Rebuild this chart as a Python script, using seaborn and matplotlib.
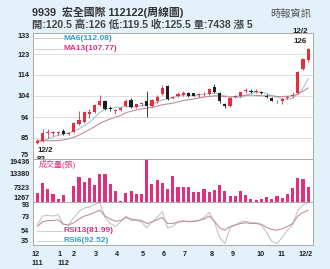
import numpy as np
import pandas as pd
import matplotlib
matplotlib.use("Agg")
import matplotlib.pyplot as plt
import seaborn as sns

# ---------------- data ----------------
opens = [82.5, 83.5, 86.8, 87.0, 87.0, 88.0, 86.5, 87.5, 91.0, 92.0,
         95.5, 96.5, 100.0, 101.5, 98.5, 97.0, 97.5, 99.5, 102.0, 99.0,
         100.3, 101.5, 99.5, 101.5, 105.0, 108.5, 103.0, 104.0, 104.5, 105.5,
         105.2, 104.5, 104.8, 105.0, 108.3, 105.5, 100.5, 99.5, 103.5, 104.0,
         106.5, 106.5, 106.0, 106.0, 104.2, 103.2, 101.5, 101.8, 103.0, 104.0,
         105.5, 116.5, 120.5]
highs = [84.0, 89.0, 89.0, 88.0, 88.0, 89.0, 87.5, 92.0, 97.0, 97.0,
         98.0, 100.5, 104.5, 102.0, 99.5, 98.0, 99.0, 102.5, 103.0, 100.5,
         101.0, 106.5, 102.5, 104.5, 109.0, 109.0, 104.0, 106.0, 106.5, 106.0,
         105.5, 105.5, 106.0, 107.5, 109.5, 106.0, 101.0, 103.5, 104.5, 106.0,
         107.5, 107.0, 107.0, 106.5, 104.8, 103.5, 102.0, 103.0, 104.0, 106.0,
         115.5, 121.5, 126.0]
lows = [82.0, 83.0, 84.5, 85.5, 86.0, 86.0, 86.0, 87.0, 90.5, 91.5,
        94.0, 96.0, 99.5, 97.5, 97.0, 95.5, 97.0, 99.0, 98.5, 98.5,
        99.5, 94.5, 99.0, 101.0, 104.5, 102.0, 102.5, 103.5, 104.0, 103.5,
        104.0, 103.5, 104.2, 104.5, 105.5, 101.0, 98.5, 99.0, 103.0, 103.5,
        105.5, 105.5, 105.5, 105.0, 103.0, 101.5, 101.0, 100.5, 102.5, 103.5,
        105.0, 116.0, 119.5]
closes = [83.5, 87.0, 87.2, 87.3, 87.5, 86.5, 87.0, 91.5, 93.0, 96.5,
          96.5, 100.0, 101.5, 98.0, 98.0, 97.5, 98.5, 101.5, 99.0, 100.3,
          100.5, 99.5, 102.0, 103.5, 107.5, 102.5, 103.5, 105.0, 105.5, 104.0,
          104.2, 104.8, 105.0, 107.0, 106.0, 101.5, 99.5, 103.0, 104.0, 105.7,
          106.5, 106.0, 106.0, 105.3, 103.4, 101.8, 101.8, 102.6, 103.7, 104.3,
          115.0, 121.0, 125.5]
ma6 = [82.5, 83.3, 84.2, 85.2, 85.9, 86.5, 87.1, 87.8, 88.8, 90.3,
       91.8, 94.1, 96.5, 97.9, 98.4, 98.6, 98.9, 99.2, 98.8, 99.1,
       99.6, 100.0, 100.4, 101.1, 102.2, 102.6, 103.1, 104.0, 104.6, 104.6,
       104.1, 104.5, 104.8, 105.1, 105.3, 104.8, 104.0, 103.7, 103.5, 103.3,
       104.2, 105.2, 105.9, 105.6, 105.1, 104.2, 103.4, 102.8, 102.4, 102.9,
       104.9, 107.5, 112.08]
ma13 = [83.5, 83.4, 83.4, 83.4, 83.5, 83.8, 84.3, 85.0, 86.0, 87.3,
        88.5, 89.9, 91.4, 92.5, 93.4, 94.3, 95.1, 96.3, 97.0, 97.6,
        98.1, 98.4, 98.8, 99.3, 100.0, 100.3, 100.7, 101.3, 101.9, 102.3,
        102.6, 103.1, 103.5, 103.8, 104.1, 104.0, 103.7, 103.6, 103.8, 104.0,
        104.3, 104.4, 104.3, 104.1, 104.1, 104.0, 103.8, 103.7, 103.9, 104.1,
        104.9, 106.2, 107.77]
volume = [5210, 9150, 6620, 4500, 2530, 4220, 1267, 8170, 11970, 9575,
          11260, 8450, 12950, 12950, 8870, 5910, 1830, 5210, 5910, 4650,
          4650, 19436, 8870, 10560, 9150, 6760, 12390, 7750, 7750, 7460,
          5630, 5630, 6760, 5630, 6340, 8450, 6050, 3940, 3940, 5910,
          4220, 2390, 1970, 2390, 3240, 2675, 3800, 3100, 4500, 7320,
          11550, 11000, 7438]
rsi6 = [62, 74, 75, 74, 76, 63, 62, 72, 80, 85,
        86, 90, 92, 72, 64, 60, 66, 74, 68, 68,
        66, 58, 66, 72, 80, 58, 60, 66, 68, 66,
        67, 68, 72, 79, 66, 45, 37, 58, 62, 66,
        67, 65, 65, 62, 52, 40, 37, 45, 55, 62,
        82, 89, 92.52]
rsi13 = [60, 66, 68, 68, 69, 63, 62, 65, 70, 74,
         76, 79, 82, 74, 70, 67, 68, 72, 70, 69,
         68, 64, 66, 69, 72, 64, 64, 66, 67, 67,
         67, 68, 70, 74, 67, 58, 55, 60, 62, 64,
         65, 64, 64, 63, 59, 56, 55, 57, 60, 64,
         74, 79, 81.99]

price_ticks = [75, 84.67, 94.33, 104, 113.67, 123.33, 133]
price_labels = ["75", "85", "94", "104", "114", "123", "133"]
vol_ticks = [1267, 7323, 13380, 19436]
vol_labels = ["1267", "7323", "13380", "19436"]
rsi_ticks = [35, 54.33, 73.67, 93]
rsi_labels = ["35", "54", "73", "93"]
x_tick_pos = [0, 5.0, 7.0, 11.2, 15.2, 20.3, 24.2, 28.2, 33.5, 37.5, 42.9, 46.8, 51.5]
x_tick_labels = ["12\n111", "1\n112", "2", "3", "4", "5", "6", "7", "8", "9", "10", "11", "12/2"]

title = "9939  宏全國際 112122(周線圖)"
subtitle = "開:120.5 高:126 低:119.5 收:125.5 量:7438 漲 5"
source = "時報資訊"

df = pd.DataFrame({"week": np.arange(len(closes)), "open": opens, "high": highs,
                   "low": lows, "close": closes, "ma6": ma6, "ma13": ma13,
                   "volume": volume, "rsi6": rsi6, "rsi13": rsi13})

# ---------------- style ----------------
sns.set_theme(style="white")
plt.rcParams['font.family'] = ['Liberation Sans', 'Noto Sans CJK TC', 'DejaVu Sans']

BG = "#e3f1fb"
RED = "#e52d3c"
BLACK = "#1e1e1e"
PINK = "#e0307c"
TEAL = "#2f9fc2"
GRID = "#d9d9d9"
BORDER = "#a9a9a9"

fig = plt.figure(figsize=(3.3, 2.69), dpi=100, facecolor=BG)
L, W = 33 / 330, 280 / 330
def fy(px):
    return 1 - px / 269
ax1 = fig.add_axes([L, fy(159), W, fy(33) - fy(159)])
ax2 = fig.add_axes([L, fy(202), W, fy(159) - fy(202)])
ax3 = fig.add_axes([L, fy(245), W, fy(202) - fy(245)])

xlim = (-0.83, 52.92)
for ax in (ax1, ax2, ax3):
    ax.set_facecolor("white")
    ax.set_xlim(*xlim)
    for s in ax.spines.values():
        s.set_color(BORDER)
        s.set_linewidth(0.7)
    ax.tick_params(axis='y', length=1.5, width=0.5, color=BORDER, pad=1.2,
                   labelsize=5.2, labelcolor="#222222")
    ax.tick_params(axis='x', length=0)

# ---------------- price panel ----------------
colors = [RED if c >= o else BLACK for o, c in zip(df.open, df.close)]
ax1.set_ylim(75, 133)
ax1.set_yticks(price_ticks, price_labels, fontweight='bold')
ax1.yaxis.grid(True, color=GRID, linewidth=0.6)
ax1.set_axisbelow(True)
ax1.set_xticks([])
ax1.vlines(df.week, df.low, df.high, colors=colors, linewidth=0.6, zorder=3)
body_bottom = np.minimum(df.open, df.close)
body_h = np.maximum(np.abs(df.close - df.open), 0.25)
ax1.bar(df.week, body_h, bottom=body_bottom, width=0.62, color=colors,
        linewidth=0, zorder=4)
sns.lineplot(data=df, x="week", y="ma6", ax=ax1, color="#9cc6d3", linewidth=0.8,
             zorder=2, legend=False)
sns.lineplot(data=df, x="week", y="ma13", ax=ax1, color="#c48aa0", linewidth=0.8,
             zorder=2, legend=False)
ax1.set_xlabel("")
ax1.set_ylabel("")

# legend samples
for ypx, txt, col in [(38.3, "MA6(112.08)", TEAL), (49, "MA13(107.77)", PINK)]:
    yy = fy(ypx)
    fig.add_artist(plt.Line2D([33 / 330, 63 / 330], [yy, yy], color="#cfcfcf",
                              linewidth=0.7, transform=fig.transFigure))
    fig.text(64 / 330, yy, txt, color=col, fontsize=6, fontweight='bold',
             va='center', ha='left')

# min / max annotations
imin = int(np.argmin(df.low))
imax = int(np.argmax(df.high))
ax1.annotate("12/2", (imin, df.low[imin]), xytext=(6, -4.5), textcoords='offset points',
             ha='center', va='center', fontsize=5.8, fontweight='bold', color="#222",
             annotation_clip=False)
t82 = ax1.annotate(f"{df.low[imin]:g}", (imin, df.low[imin]), xytext=(2.5, -11.5),
                   textcoords='offset points', ha='center', va='center', fontsize=5.8,
                   fontweight='bold', color="#222")
t82.set_clip_on(True)
t82.set_clip_box(ax1.bbox)
ax1.annotate(f"{df.high[imax]:g}", (imax, df.high[imax]), xytext=(-5.5, 4.7),
             textcoords='offset points', ha='center', va='center', fontsize=5.8,
             fontweight='bold', color="#222", annotation_clip=False)
ax1.annotate("12/2", (imax, df.high[imax]), xytext=(-6, 11.8),
             textcoords='offset points', ha='center', va='center', fontsize=5.8,
             fontweight='bold', color="#222", annotation_clip=False)

# ---------------- volume panel ----------------
ax2.set_ylim(1267, 19436)
ax2.bar(df.week, df.volume - 1267, bottom=1267, width=0.6, color=PINK, linewidth=0)
ax2.set_yticks(vol_ticks, vol_labels, fontweight='bold')
ax2.set_xticks([])
ax2.text(0.02, 0.87, "成交量(張)", transform=ax2.transAxes, color=PINK, fontsize=5.8,
         va='center', ha='left')

# ---------------- RSI panel ----------------
ax3.set_ylim(35, 93)
sns.lineplot(data=df, x="week", y="rsi6", ax=ax3, color="#c4c4c4", linewidth=0.8,
             legend=False)
sns.lineplot(data=df, x="week", y="rsi13", ax=ax3, color="#c58ea5", linewidth=0.8,
             legend=False)
ax3.set_xlabel("")
ax3.set_ylabel("")
ax3.set_yticks(rsi_ticks, rsi_labels, fontweight='bold')
ax3.set_xticks(x_tick_pos, x_tick_labels)
for t in ax3.get_xticklabels():
    t.set_fontsize(5.2)
    t.set_fontweight('bold')
    t.set_color("#222222")
    t.set_multialignment('left')
    t.set_linespacing(1.35)
ax3.tick_params(axis='x', pad=4.2)
for ypx, txt, col in [(230.7, "RSI13(81.99)", PINK), (240.7, "RSI6(92.52)", TEAL)]:
    yy = fy(ypx)
    fig.add_artist(plt.Line2D([37 / 330, 63 / 330], [yy, yy], color="#cfcfcf",
                              linewidth=0.7, transform=fig.transFigure))
    fig.text(64 / 330, yy, txt, color=col, fontsize=6, fontweight='bold',
             va='center', ha='left')

# y tick label vertical alignment at panel edges
for ax in (ax1, ax2, ax3):
    lbls = ax.get_yticklabels()
    lbls[0].set_va('bottom')
    lbls[-1].set_va('top')

# ---------------- header texts ----------------
fig.text(32 / 330, fy(12), title, fontsize=7.8, fontweight='bold', color="#333333",
         va='center', ha='left')
fig.text(32 / 330, fy(24), subtitle, fontsize=7.5, fontweight='bold', color="#444444",
         va='center', ha='left')
fig.text(311 / 330, fy(13.5), source, fontsize=7.4, color="#555555",
         va='center', ha='right')

fig.savefig("out.png", dpi=100, facecolor=BG)
